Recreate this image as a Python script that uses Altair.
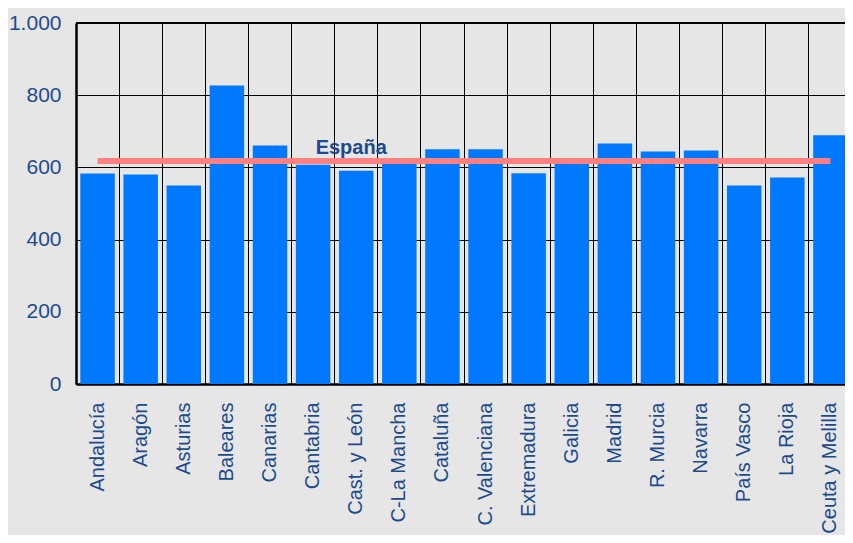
import altair as alt
import pandas as pd

regions = ["Andalucía", "Aragón", "Asturias", "Baleares", "Canarias", "Cantabria",
           "Cast. y León", "C-La Mancha", "Cataluña", "C. Valenciana", "Extremadura",
           "Galicia", "Madrid", "R. Murcia", "Navarra", "País Vasco", "La Rioja",
           "Ceuta y Melilla"]
values = [583, 580, 550, 827, 661, 607, 591, 613, 650, 650, 584, 614, 666, 644, 647, 550, 572, 689]
spain_value = 618
spain_label = "España"
y_ticks = [0, 200, 400, 600, 800, 1000]
y_max = [1000]

df = pd.DataFrame({"region": regions, "value": values})
line_df = pd.DataFrame({"region": [regions[0], regions[-1]], "value": [spain_value, spain_value]})
label_df = pd.DataFrame({"region": ["Cast. y León"], "value": [spain_value], "text": [spain_label]})
top_df = pd.DataFrame({"value": y_max})

TXT = "#1c4b8c"
FONT = "Liberation Sans"

x_enc = alt.X(
    "region:N", sort=regions, title=None,
    scale=alt.Scale(paddingInner=0, paddingOuter=0, range=[0, 776]),
    axis=alt.Axis(labelAngle=-90, labelAlign="right", labelBaseline="middle",
                  labelFontSize=20, labelFont=FONT, labelColor=TXT, labelPadding=18,
                  labelOverlap=False, labelLimit=300, ticks=False, grid=True,
                  gridColor="black", gridWidth=1, gridOpacity=1, bandPosition=0,
                  domainColor="black", domainWidth=2.5),
)
y_enc = alt.Y(
    "value:Q", title=None,
    scale=alt.Scale(domain=[0, 1000], nice=False),
    axis=alt.Axis(values=y_ticks, labelFontSize=21, labelFont=FONT, labelColor=TXT,
                  labelPadding=15, ticks=False, grid=True, gridColor="black",
                  gridWidth=1, gridOpacity=1, domainColor="black", domainWidth=2.5,
                  labelExpr="datum.value == 1000 ? '1.000' : datum.label"),
)

bars = alt.Chart(df).mark_bar(color="#0078ff", width=alt.RelativeBandSize(0.8)).encode(x=x_enc, y=y_enc)

top = alt.Chart(top_df).mark_rule(color="black", strokeWidth=2).encode(y="value:Q")

line = alt.Chart(line_df).mark_line(color="#ff8080", strokeWidth=6).encode(
    x=alt.X("region:N", sort=regions), y="value:Q")

label = alt.Chart(label_df).mark_text(
    font=FONT, fontSize=20, fontWeight="bold", color=TXT, baseline="alphabetic",
    dy=-7, dx=-5, align="center").encode(
    x=alt.X("region:N", sort=regions), y="value:Q", text="text:N")

chart = alt.layer(bars, top, line, label).properties(
    width=769, height=361, background="#e6e6e6",
    autosize=alt.AutoSizeParams(type="none"),
    padding={"left": 68, "top": 15, "right": 0, "bottom": 151},
).configure_view(stroke=None)

chart.save("out.html", embed_options={"renderer": "svg", "actions": False})
